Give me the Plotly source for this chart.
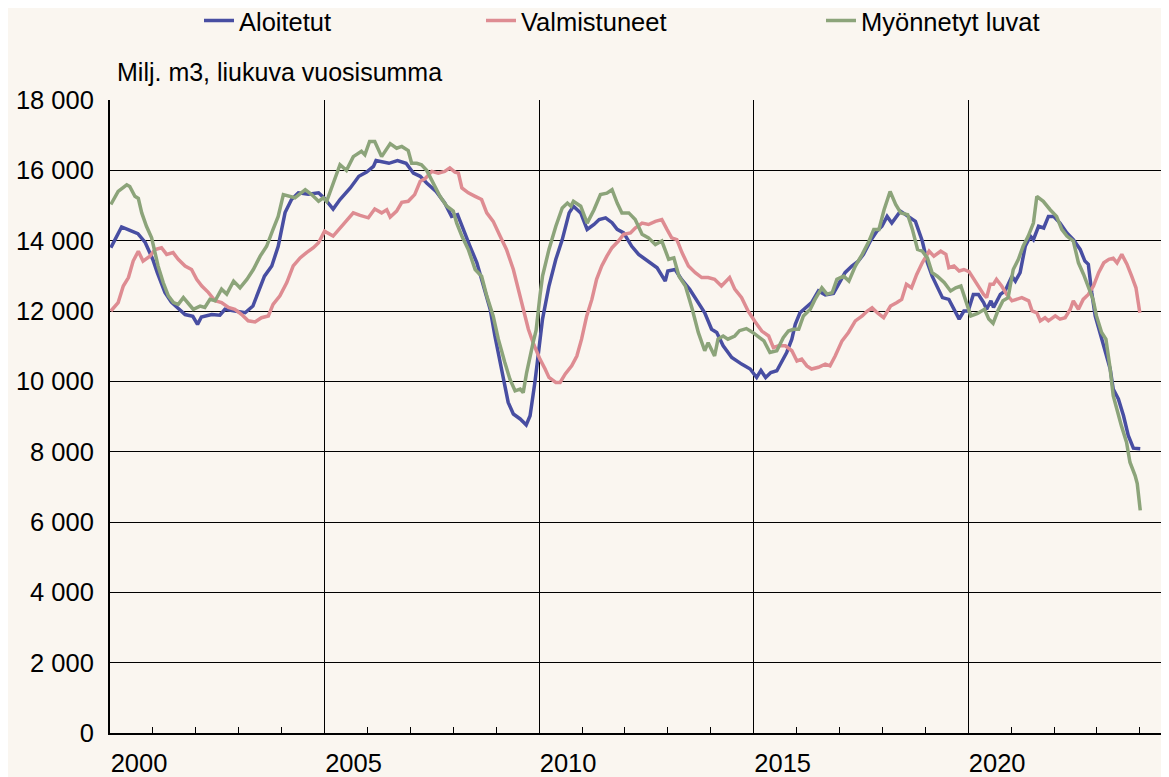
import plotly.graph_objects as go

# Aloitetut (started)
alo_x = [2000.02, 2000.27, 2000.45, 2000.65, 2000.82, 2001.00, 2001.10, 2001.28, 2001.43, 2001.60,
         2001.75, 2001.93, 2002.04, 2002.13, 2002.37, 2002.56, 2002.68, 2002.91, 2003.15, 2003.33,
         2003.45, 2003.60, 2003.77, 2003.92, 2004.08, 2004.23, 2004.39, 2004.62, 2004.86, 2005.00,
         2005.20, 2005.36, 2005.60, 2005.80, 2005.98, 2006.14, 2006.20, 2006.50, 2006.70, 2006.90,
         2007.07, 2007.23, 2007.38, 2007.60, 2007.80, 2007.96, 2008.10, 2008.23, 2008.39, 2008.55,
         2008.70, 2008.86, 2008.97, 2009.13, 2009.28, 2009.40, 2009.56, 2009.70, 2009.79, 2009.90,
         2010.02, 2010.08, 2010.23, 2010.39, 2010.54, 2010.70, 2010.80, 2010.97, 2011.12, 2011.28,
         2011.40, 2011.55, 2011.70, 2011.82, 2011.97, 2012.16, 2012.32, 2012.55, 2012.75, 2012.94,
         2013.00, 2013.17, 2013.32, 2013.51, 2013.71, 2013.86, 2014.02, 2014.14, 2014.29, 2014.49,
         2014.72, 2014.92, 2015.07, 2015.17, 2015.28, 2015.40, 2015.54, 2015.66, 2015.77, 2015.89,
         2015.97, 2016.08, 2016.24, 2016.35, 2016.51, 2016.67, 2016.86, 2016.97, 2017.13, 2017.29,
         2017.44, 2017.56, 2017.72, 2017.87, 2017.99, 2018.11, 2018.22, 2018.42, 2018.61, 2018.77,
         2018.93, 2019.05, 2019.16, 2019.28, 2019.40, 2019.55, 2019.67, 2019.79, 2019.90, 2020.00,
         2020.12, 2020.24, 2020.36, 2020.43, 2020.53, 2020.59, 2020.75, 2020.86, 2021.02, 2021.10,
         2021.21, 2021.33, 2021.45, 2021.52, 2021.64, 2021.76, 2021.87, 2021.99, 2022.14, 2022.30,
         2022.45, 2022.61, 2022.72, 2022.80, 2022.88, 2022.96, 2023.07, 2023.19, 2023.31, 2023.38,
         2023.50, 2023.62, 2023.73, 2023.85, 2023.92, 2024.01]
alo_y = [13800, 14390, 14300, 14200, 13950, 13460, 13100, 12530, 12250, 12050,
         11900, 11850, 11620, 11830, 11900, 11880, 12050, 12000, 11950, 12140,
         12530, 12990, 13280, 13840, 14800, 15170, 15360, 15320, 15360, 15200,
         14900, 15170, 15500, 15830, 15950, 16110, 16280, 16200, 16280, 16200,
         15920, 15830, 15640, 15400, 15070, 14690, 14740, 14320, 13840, 13370,
         12710, 12050, 11290, 10250, 9400, 9070, 8930, 8760, 9020, 9950,
         11100, 11770, 12710, 13470, 14030, 14790, 14980, 14790, 14320, 14460,
         14600, 14650, 14510, 14320, 14220, 13840, 13610, 13420, 13230, 12850,
         13140, 13180, 12900, 12620, 12240, 11950, 11480, 11390, 11010, 10680,
         10490, 10350, 10110, 10310, 10110, 10250, 10300, 10580, 10820, 11200,
         11620, 11950, 12140, 12240, 12570, 12460, 12500, 12760, 13090, 13280,
         13420, 13610, 13990, 14270, 14410, 14690, 14500, 14840, 14690, 14550,
         13990, 13370, 12990, 12710, 12380, 12330, 12050, 11770, 12000, 12000,
         12470, 12470, 12240, 12050, 12290, 12100, 12470, 12570, 12990, 12850,
         13090, 13840, 14130, 14030, 14410, 14360, 14690, 14690, 14500, 14220,
         14030, 13750, 13420, 13330, 12520, 11860, 11390, 10910, 10350, 9780,
         9500, 9020, 8460, 8100, 8100, 8080]

# Valmistuneet (completed)
val_x = [2000.02, 2000.19, 2000.31, 2000.43, 2000.54, 2000.66, 2000.77, 2000.93, 2001.05, 2001.20,
         2001.32, 2001.47, 2001.59, 2001.75, 2001.90, 2002.02, 2002.14, 2002.29, 2002.45, 2002.60,
         2002.76, 2002.91, 2003.07, 2003.22, 2003.38, 2003.53, 2003.69, 2003.80, 2003.96, 2004.12,
         2004.27, 2004.43, 2004.58, 2004.74, 2004.86, 2005.00, 2005.20, 2005.36, 2005.51, 2005.67,
         2005.83, 2006.02, 2006.17, 2006.33, 2006.45, 2006.53, 2006.68, 2006.80, 2006.95, 2007.10,
         2007.23, 2007.34, 2007.50, 2007.65, 2007.80, 2007.92, 2008.04, 2008.12, 2008.20, 2008.35,
         2008.51, 2008.66, 2008.78, 2008.93, 2009.09, 2009.24, 2009.40, 2009.52, 2009.63, 2009.75,
         2009.86, 2010.02, 2010.14, 2010.23, 2010.39, 2010.49, 2010.61, 2010.76, 2010.88, 2010.99,
         2011.11, 2011.23, 2011.34, 2011.46, 2011.58, 2011.70, 2011.85, 2011.97, 2012.13, 2012.24,
         2012.40, 2012.55, 2012.71, 2012.86, 2012.98, 2013.09, 2013.21, 2013.33, 2013.48, 2013.64,
         2013.79, 2013.94, 2014.09, 2014.25, 2014.44, 2014.56, 2014.72, 2014.87, 2015.03, 2015.19,
         2015.35, 2015.46, 2015.58, 2015.74, 2015.89, 2016.01, 2016.12, 2016.24, 2016.35, 2016.51,
         2016.67, 2016.78, 2016.90, 2017.06, 2017.21, 2017.37, 2017.53, 2017.65, 2017.76, 2017.88,
         2018.03, 2018.19, 2018.34, 2018.45, 2018.56, 2018.68, 2018.80, 2018.93, 2019.09, 2019.20,
         2019.36, 2019.48, 2019.55, 2019.67, 2019.79, 2019.90, 2020.02, 2020.14, 2020.24, 2020.36,
         2020.43, 2020.51, 2020.59, 2020.66, 2020.78, 2020.90, 2021.02, 2021.13, 2021.25, 2021.41,
         2021.49, 2021.60, 2021.68, 2021.79, 2021.87, 2022.03, 2022.14, 2022.26, 2022.38, 2022.45,
         2022.57, 2022.68, 2022.80, 2022.92, 2023.04, 2023.16, 2023.28, 2023.38, 2023.47, 2023.58,
         2023.70, 2023.81, 2023.91, 2024.00]
val_y = [12000, 12240, 12710, 12950, 13420, 13700, 13420, 13560, 13750, 13800,
         13610, 13660, 13470, 13280, 13180, 12900, 12710, 12530, 12290, 12240,
         12100, 12050, 11900, 11720, 11690, 11810, 11860, 12190, 12430, 12810,
         13280, 13510, 13660, 13800, 13940, 14270, 14130, 14360, 14550, 14790,
         14720, 14650, 14900, 14790, 14880, 14670, 14840, 15090, 15120, 15310,
         15690, 15760, 15970, 15920, 15970, 16070, 15950, 15920, 15500, 15360,
         15260, 15170, 14790, 14550, 14130, 13750, 13180, 12620, 12050, 11480,
         11100, 10630, 10350, 10110, 9970, 9970, 10210, 10440, 10720, 11200,
         11860, 12330, 12900, 13280, 13560, 13800, 13990, 14180, 14220, 14360,
         14500, 14460, 14550, 14600, 14320, 14080, 14030, 13660, 13280, 13090,
         12950, 12950, 12900, 12710, 12950, 12620, 12380, 12000, 11700, 11430,
         11290, 10960, 11010, 11010, 10870, 10580, 10630, 10440, 10350, 10400,
         10490, 10440, 10720, 11150, 11390, 11720, 11860, 12000, 12090, 11950,
         11810, 12140, 12240, 12330, 12760, 12660, 13040, 13370, 13700, 13560,
         13700, 13610, 13230, 13280, 13140, 13180, 13120, 12880, 12710, 12470,
         12380, 12760, 12760, 12900, 12710, 12470, 12290, 12330, 12380, 12290,
         12000, 11950, 11720, 11810, 11720, 11860, 11770, 11810, 12050, 12290,
         12050, 12330, 12470, 12710, 13090, 13370, 13470, 13500, 13370, 13610,
         13330, 12990, 12660, 11950]

# Myönnetyt luvat (permits granted)
myo_x = [2000.02, 2000.19, 2000.39, 2000.46, 2000.58, 2000.66, 2000.74, 2000.85, 2000.97, 2001.05,
         2001.12, 2001.24, 2001.36, 2001.48, 2001.59, 2001.71, 2001.83, 2001.94, 2002.10, 2002.21,
         2002.33, 2002.45, 2002.60, 2002.72, 2002.88, 2003.03, 2003.19, 2003.34, 2003.50, 2003.65,
         2003.80, 2003.92, 2004.04, 2004.16, 2004.31, 2004.55, 2004.70, 2004.86, 2004.97, 2005.05,
         2005.20, 2005.36, 2005.51, 2005.67, 2005.86, 2005.94, 2006.05, 2006.17, 2006.33, 2006.53,
         2006.68, 2006.80, 2006.95, 2007.03, 2007.15, 2007.26, 2007.38, 2007.54, 2007.69, 2007.85,
         2008.00, 2008.08, 2008.20, 2008.35, 2008.51, 2008.66, 2008.78, 2008.93, 2009.05, 2009.20,
         2009.32, 2009.44, 2009.56, 2009.63, 2009.71, 2009.86, 2009.93, 2010.02, 2010.08, 2010.23,
         2010.39, 2010.54, 2010.66, 2010.74, 2010.80, 2010.97, 2011.12, 2011.28, 2011.43, 2011.58,
         2011.70, 2011.82, 2011.93, 2012.09, 2012.24, 2012.40, 2012.55, 2012.71, 2012.86, 2013.02,
         2013.14, 2013.26, 2013.41, 2013.57, 2013.71, 2013.86, 2013.94, 2014.09, 2014.17, 2014.29,
         2014.40, 2014.56, 2014.67, 2014.83, 2014.98, 2015.13, 2015.24, 2015.38, 2015.54, 2015.69,
         2015.81, 2015.93, 2016.05, 2016.16, 2016.32, 2016.43, 2016.59, 2016.71, 2016.83, 2016.94,
         2017.10, 2017.22, 2017.37, 2017.53, 2017.69, 2017.80, 2017.92, 2018.04, 2018.18, 2018.31,
         2018.43, 2018.59, 2018.70, 2018.82, 2018.93, 2019.05, 2019.16, 2019.28, 2019.44, 2019.59,
         2019.71, 2019.83, 2019.94, 2020.06, 2020.22, 2020.38, 2020.48, 2020.58, 2020.69, 2020.81,
         2020.93, 2021.05, 2021.17, 2021.28, 2021.40, 2021.52, 2021.60, 2021.75, 2021.91, 2022.06,
         2022.18, 2022.30, 2022.45, 2022.57, 2022.69, 2022.80, 2022.91, 2022.99, 2023.11, 2023.21,
         2023.30, 2023.38, 2023.46, 2023.57, 2023.69, 2023.77, 2023.89, 2023.94, 2024.01]
myo_y = [15030, 15400, 15590, 15540, 15260, 15200, 14790, 14410, 14080, 13660,
         13280, 12810, 12430, 12240, 12190, 12380, 12190, 12050, 12140, 12100,
         12330, 12290, 12620, 12480, 12850, 12660, 12900, 13180, 13560, 13840,
         14320, 14690, 15310, 15260, 15220, 15450, 15310, 15120, 15220, 15120,
         15640, 16160, 16000, 16390, 16540, 16440, 16820, 16820, 16390, 16760,
         16630, 16680, 16560, 16200, 16200, 16160, 16000, 15640, 15260, 14980,
         14840, 14500, 14130, 13750, 13180, 12990, 12430, 11860, 11200, 10540,
         10060, 9730, 9780, 9680, 10250, 11100, 11450, 12430, 12990, 13750,
         14410, 14930, 15070, 14980, 15120, 14980, 14500, 14880, 15310, 15350,
         15450, 15070, 14790, 14790, 14600, 14180, 14080, 13890, 13990, 13470,
         13510, 12990, 12710, 12050, 11390, 10870, 11100, 10720, 11200, 11290,
         11200, 11290, 11440, 11500, 11390, 11250, 11150, 10820, 10870, 11240,
         11430, 11480, 11480, 11860, 12050, 12330, 12660, 12480, 12520, 12900,
         12990, 12850, 13280, 13610, 13990, 14320, 14320, 14880, 15400, 15030,
         14790, 14740, 14320, 13750, 13700, 13510, 13090, 12990, 12810, 12570,
         12660, 12710, 12290, 11860, 11930, 12050, 11770, 11650, 12000, 12290,
         12380, 13180, 13470, 13840, 14130, 14500, 15260, 15120, 14880, 14690,
         14320, 14130, 13990, 13370, 13040, 12710, 12330, 11860, 11390, 11200,
         10440, 9590, 9210, 8740, 8270, 7700, 7320, 7090, 6330]

series_names = ["Aloitetut", "Valmistuneet", "Myönnetyt luvat"]
series_colors = ["#484EA2", "#DE8C92", "#8CA47A"]

y_ticks = list(range(0, 18001, 2000))
x_tick_years = [2000, 2005, 2010, 2015, 2020]

FONT = "Liberation Sans, Arial, sans-serif"
FS = 25.5
BG = "#FAF6F0"
W, H = 1161, 769  # page body has an 8px margin

fig = go.Figure()
data = [(alo_x, alo_y), (val_x, val_y), (myo_x, myo_y)]
legend_ids = ["legend", "legend2", "legend3"]
for (xs, ys), name, col, lg in zip(data, series_names, series_colors, legend_ids):
    fig.add_trace(go.Scatter(x=xs, y=ys, mode="lines", name=name, legend=lg,
                             line=dict(color=col, width=3.5)))

legend_common = dict(orientation="h", xref="container", yref="container",
                     yanchor="middle", xanchor="left", bgcolor="rgba(0,0,0,0)",
                     font=dict(family=FONT, size=FS, color="black"),
                     itemwidth=30, tracegroupgap=0)
ly = 1 - 13 / H
fig.update_layout(
    width=W, height=H,
    paper_bgcolor=BG, plot_bgcolor=BG,
    margin=dict(l=102, r=0, t=92, b=42),
    separators=", ",
    font=dict(family=FONT, size=FS, color="black"),
    showlegend=True,
    legend=dict(x=191 / W, y=ly, **legend_common),
    legend2=dict(x=473 / W, y=ly, **legend_common),
    legend3=dict(x=813 / W, y=ly, **legend_common),
    xaxis=dict(range=[2000, 2024.68], tickvals=x_tick_years,
               ticktext=[str(v) for v in x_tick_years],
               ticks="inside", ticklen=6, tickcolor="black", tickwidth=1,
               showgrid=True, gridcolor="black", gridwidth=1,
               showline=True, linecolor="black", linewidth=2,
               zeroline=False, ticklabelshift=29, ticklabelstandoff=6,
               minor=dict(dtick=1, tick0=2000, ticks="inside", ticklen=6,
                          tickcolor="black", tickwidth=1, showgrid=False),
               tickfont=dict(family=FONT, size=FS, color="black")),
    yaxis=dict(range=[0, 18000], tickvals=y_ticks, tickformat=",d",
               ticks="", showgrid=True, gridcolor="black", gridwidth=1,
               showline=True, linecolor="black", linewidth=2, zeroline=False,
               ticklabelstandoff=9,
               tickfont=dict(family=FONT, size=FS, color="black")),
    annotations=[dict(text="Milj. m3, liukuva vuosisumma", xref="paper", yref="paper",
                      x=0.0047, y=1 + 28 / 635, xanchor="left", yanchor="middle",
                      showarrow=False, font=dict(family=FONT, size=25, color="black"))],
)

fig.write_html("out.html")
